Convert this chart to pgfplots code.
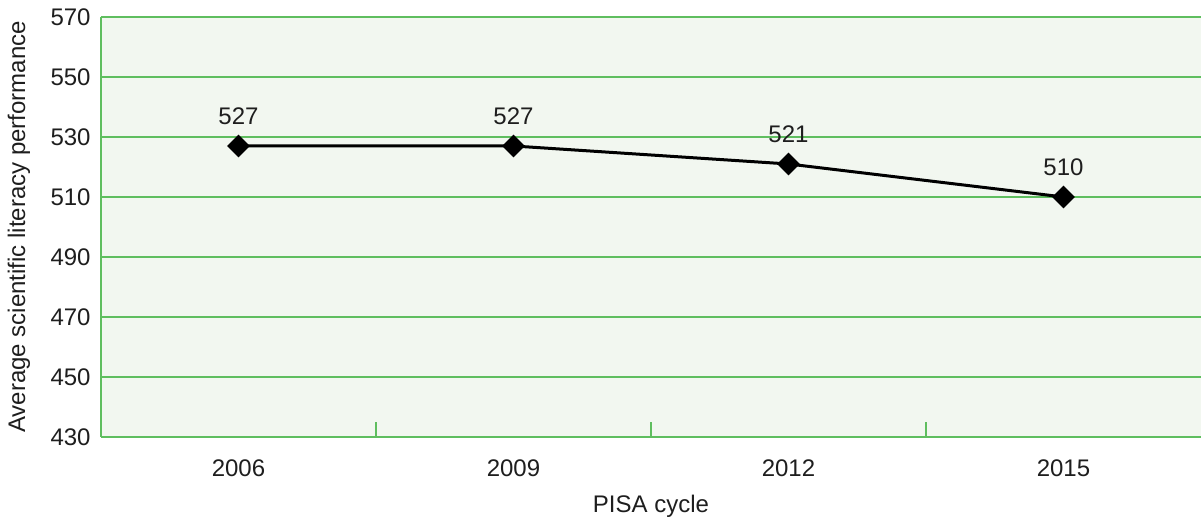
\documentclass[border=0pt]{standalone}
\usepackage{fontspec}
\setmainfont{Liberation Sans}
\usepackage{pgfplots}
\pgfplotsset{compat=1.18}
\definecolor{gridgreen}{RGB}{95,190,95}
\definecolor{bggreen}{RGB}{242,247,240}
\definecolor{txt}{RGB}{30,30,30}
\begin{document}
\fontsize{12}{14}\selectfont
\begin{tikzpicture}
\begin{axis}[
  name=ax,
  scale only axis,
  width=550pt, height=210pt,
  xmin=-0.5, xmax=3.5,
  ymin=430, ymax=570,
  ytick={430,450,...,570},
  xtick={0,1,2,3},
  xticklabels={2006,2009,2012,2015},
  minor xtick={0.5,1.5,2.5},
  major tick length=0pt,
  minor tick length=7.5pt,
  xtick pos=bottom, ytick pos=left,
  xtick align=inside,
  minor tick style={gridgreen, line width=0.9pt},
  axis line style={gridgreen, line width=0.9pt},
  axis x line*=bottom, axis y line*=left,
  ymajorgrids,
  major grid style={gridgreen, line width=0.9pt},
  axis background/.style={fill=bggreen},
  /pgf/number format/assume math mode=true,
  /pgf/number format/1000 sep={},
  tick label style={font=\fontsize{12}{14}\selectfont, text=txt},
  xticklabel style={yshift=-7pt},
  yticklabel style={xshift=-1pt},
  xlabel={PISA cycle},
  ylabel={Average scientific literacy performance},
  label style={font=\fontsize{12}{14}\selectfont, text=txt},
  xlabel style={yshift=-1pt},
  ylabel style={yshift=2pt},
  clip=false,
]
\addplot[black, line width=1.5pt, mark=square*, mark size=3.3pt,
  mark options={rotate=45, solid},
  nodes near coords,
  every node near coord/.style={anchor=south, yshift=6pt, font=\fontsize{12}{14}\selectfont, text=txt},
  point meta=explicit symbolic]
  coordinates {(0,527) [527] (1,527) [527] (2,521) [521] (3,510) [510]};
\end{axis}
\pgfresetboundingbox
\path[use as bounding box] ([xshift=-50.5pt, yshift=-40pt]ax.south west) rectangle ([yshift=8.5pt]ax.north east);
\end{tikzpicture}
\end{document}
